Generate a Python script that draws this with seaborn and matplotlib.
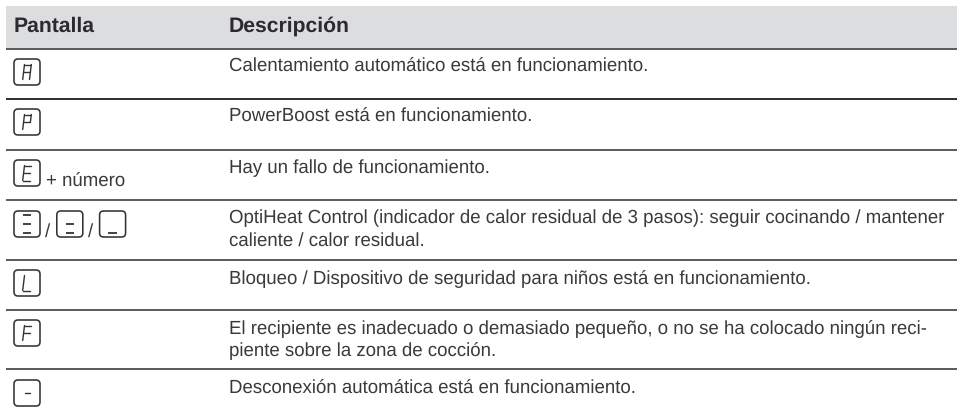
import matplotlib
matplotlib.use('Agg')
import matplotlib.pyplot as plt
from matplotlib.patches import FancyBboxPatch, Rectangle
import seaborn as sns

# table content
headers = ['Pantalla', 'Descripción']
row_glyphs = [['A'], ['P'], ['E'], ['3', '2', '1'], ['L'], ['F'], ['-']]
row_suffix = ['', '', '+ número', '', '', '', '']
row_text = [
    ['Calentamiento automático está en funcionamiento.'],
    ['PowerBoost está en funcionamiento.'],
    ['Hay un fallo de funcionamiento.'],
    ['OptiHeat Control (indicador de calor residual de 3 pasos): seguir cocinando / mantener',
     'caliente / calor residual.'],
    ['Bloqueo / Dispositivo de seguridad para niños está en funcionamiento.'],
    ['El recipiente es inadecuado o demasiado pequeño, o no se ha colocado ningún reci-',
     'piente sobre la zona de cocción.'],
    ['Desconexión automática está en funcionamiento.'],
]

# segments lit for each display sign
segments = {'A': 'abcefg', 'P': 'abefg', 'E': 'adefg', 'L': 'def', 'F': 'aefg', '-': 'g'}
bar_signs = {'3': 'agd', '2': 'gd', '1': 'd'}

sns.set_theme(style='white')
plt.rcParams['font.family'] = ['Liberation Sans', 'DejaVu Sans']
plt.rcParams['text.hinting'] = 'no_hinting'

INK = '#3a3a3c'
rules_y = [48.5, 99, 149.5, 200, 259.5, 310, 369]
rules_w = [1.1, 1.4, 1.1, 1.1, 1.1, 1.1, 1.1]
box_top = [59, 109, 160, 211, 270, 320, 380]
text_base = [71.5, 122, 173.5, 223.5, 284, 334, 393.5]
LINE_GAP = 22
TEXT_X = 229
FONT = 13.4


def draw_sign(ax, x, y, sign):
    ax.add_patch(FancyBboxPatch((x + 3.5, y + 3.5), 19, 19, boxstyle='round,pad=3.5,rounding_size=4',
                                fc='white', ec='#333333', lw=1.15))
    cx = x + 13
    if sign in bar_signs:
        bars = {'a': y + 3.5, 'g': y + 12.5, 'd': y + 22}
        for s in bar_signs[sign]:
            ax.plot([cx - 4.2, cx + 4.2], [bars[s], bars[s]], color='#333333', lw=1.3, solid_capstyle='butt')
        return
    mid = y + 13
    h = 7.5
    w = 3.4
    slant = 0.12

    def pt(px, py):
        return cx + px + (mid - py) * slant, py

    top, bot = mid - h, mid + h
    lines = {
        'a': ((-w, top), (w, top)), 'g': ((-w, mid), (w, mid)), 'd': ((-w, bot), (w, bot)),
        'f': ((-w, top), (-w, mid)), 'e': ((-w, mid), (-w, bot)),
        'b': ((w, top), (w, mid)), 'c': ((w, mid), (w, bot)),
    }
    if sign == '-':
        lines['g'] = ((-2.5, mid), (2.5, mid))
    for s in segments[sign]:
        p0 = pt(*lines[s][0])
        p1 = pt(*lines[s][1])
        ax.plot([p0[0], p1[0]], [p0[1], p1[1]], color='#333333', lw=1.0, solid_capstyle='round')


fig = plt.figure(figsize=(9.57, 4.17), dpi=100)
ax = fig.add_axes([0, 0, 1, 1])
ax.set_xlim(0, 957)
ax.set_ylim(417, 0)
ax.axis('off')

ax.add_patch(Rectangle((6, 6), 951, 42, fc='#dcddde', ec='none'))
ax.text(14, 32, headers[0], fontsize=15.2, fontweight='bold', color='#2b2b2d', va='baseline')
ax.text(229, 32, headers[1], fontsize=15.2, fontweight='bold', color='#2b2b2d', va='baseline')

for y, lw in zip(rules_y, rules_w):
    ax.plot([6, 957], [y, y], color='#2e2e30', lw=lw, solid_capstyle='butt')

for i, glyphs in enumerate(row_glyphs):
    x = 14
    for j, g in enumerate(glyphs):
        draw_sign(ax, x, box_top[i], g)
        if j < len(glyphs) - 1:
            ax.text(x + 33.5, box_top[i] + 26, '/', fontsize=FONT, color=INK, ha='center', va='baseline')
        x += 42.8
    if row_suffix[i]:
        ax.text(46, box_top[i] + 27, row_suffix[i], fontsize=FONT, color=INK, va='baseline')
    for k, line in enumerate(row_text[i]):
        ax.text(TEXT_X, text_base[i] + k * LINE_GAP, line, fontsize=FONT, color=INK, va='baseline')

fig.savefig('out.png', dpi=100)
